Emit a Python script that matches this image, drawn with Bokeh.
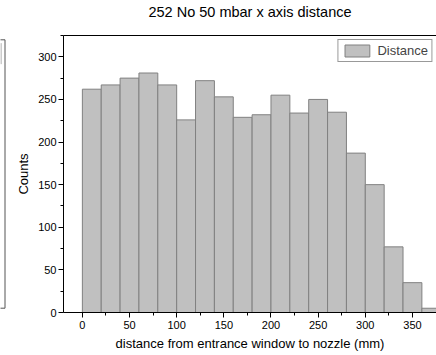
from bokeh.plotting import figure
from bokeh.models import Range1d, FixedTicker, Legend, LegendItem, LinearAxis, Div
from bokeh.layouts import row, column
from bokeh.embed import file_html
from bokeh.resources import INLINE

# data
bin_starts = [0, 20, 40, 60, 80, 100, 120, 140, 160, 180, 200, 220, 240, 260, 280, 300, 320, 340, 360]
bin_width = 20
counts = [262, 267, 275, 281, 267, 226, 272, 253, 229, 232, 255, 234, 250, 235, 187, 150, 77, 35, 5]
x_ticks = [0, 50, 100, 150, 200, 250, 300, 350]
y_ticks = [0, 50, 100, 150, 200, 250, 300]
title = "252 No 50 mbar x axis distance"
x_label = "distance from entrance window to nozzle (mm)"
y_label = "Counts"
series_name = "Distance"

FONT = "Liberation Sans"

title_div = Div(text=title, width=436, height=24, margin=0,
                styles={"font-family": FONT, "font-size": "14.5px", "color": "black",
                        "text-align": "center", "line-height": "24px",
                        "padding-left": "64px", "box-sizing": "border-box",
                        "width": "436px", "white-space": "nowrap"})

# sliver of the neighbouring panel at the left edge
s = figure(width=6, height=331, x_range=Range1d(0, 6), y_range=Range1d(0, 290),
           output_backend="svg", toolbar_location=None, margin=0,
           min_border_left=0, min_border_right=0, min_border_top=11, min_border_bottom=30)
s.axis.visible = False
s.grid.visible = False
s.outline_line_color = None
s.quad(left=-5, right=4.5, top=285.5, bottom=4.5, fill_color=None,
       line_color="#555555", line_width=1)
s.line(x=[0.5, 0.5], y=[282, 260], line_color="#999999", line_width=1)

p = figure(width=430, height=331, x_range=Range1d(-20, 375.5), y_range=Range1d(0, 325),
           output_backend="svg", toolbar_location=None, margin=0,
           min_border_left=57, min_border_right=0, min_border_top=8, min_border_bottom=43,
           background_fill_color="white", border_fill_color="white")
p.outline_line_color = None
p.grid.visible = False

lefts = [b for b in bin_starts]
rights = [b + bin_width for b in bin_starts]
r = p.quad(left=lefts, right=rights, top=counts, bottom=0,
           fill_color="#c0c0c0", line_color="#808080", line_width=1)

for ax in (p.xaxis[0], p.yaxis[0]):
    ax.axis_line_color = "black"
    ax.major_tick_line_color = "black"
    ax.minor_tick_line_color = "black"
    ax.major_tick_out = 5
    ax.major_tick_in = 0
    ax.minor_tick_out = 3
    ax.minor_tick_in = 0
    ax.major_label_text_font = FONT
    ax.major_label_text_font_size = "11px"
    ax.major_label_text_color = "black"
    ax.axis_label_text_font = FONT
    ax.axis_label_text_font_size = "13px"
    ax.axis_label_text_font_style = "normal"
    ax.axis_label_text_color = "black"

p.xaxis.ticker = FixedTicker(ticks=x_ticks, minor_ticks=[t + 25 for t in x_ticks])
p.yaxis.ticker = FixedTicker(ticks=y_ticks, minor_ticks=[t + 25 for t in y_ticks])
p.xaxis.axis_label = x_label
p.yaxis.axis_label = y_label
p.xaxis.major_label_standoff = 3
p.yaxis.major_label_standoff = 2
p.xaxis.axis_label_standoff = 4
p.yaxis.axis_label_standoff = 4

# top frame border
top_axis = LinearAxis(axis_line_color="black", major_tick_line_color=None,
                      minor_tick_line_color=None, major_label_text_font_size="0px",
                      major_tick_out=0, major_tick_in=0,
                      major_label_standoff=0, ticker=FixedTicker(ticks=[]))
p.add_layout(top_axis, "above")

legend = Legend(items=[LegendItem(label=series_name, renderers=[r])],
                location="top_right", margin=4,
                label_text_font=FONT, label_text_font_size="13px",
                glyph_width=31, glyph_height=15, padding=3, spacing=0,
                label_standoff=5, border_line_color="#333333",
                border_line_width=1, background_fill_color="white")
p.add_layout(legend)

layout = column(title_div, row(s, p, spacing=0, margin=0), spacing=0, margin=0)
open("out.html", "w").write(file_html(layout, INLINE))
